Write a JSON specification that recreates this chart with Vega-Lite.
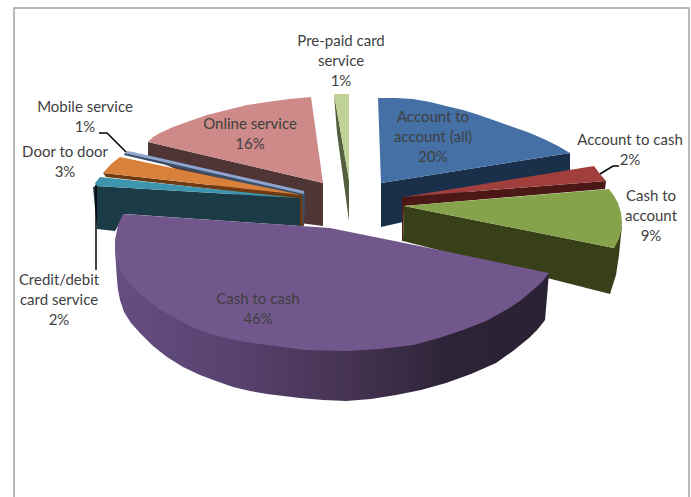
{
"$schema":"https://vega.github.io/schema/vega-lite/v6.json",
"width":691,"height":497,"padding":0,
"autosize":{"type":"fit","contains":"padding"},
"background":"white",
"view":{"stroke":null},
"datasets":{
"frame":[{"n":1,"x":14,"y":497},{"n":2,"x":14,"y":8},{"n":3,"x":689,"y":8},{"n":4,"x":689,"y":497}],
"faces":[
{"part":"prepaid side","n":1,"x":334,"y":94},{"part":"prepaid side","n":2,"x":349,"y":180},{"part":"prepaid side","n":3,"x":349,"y":221},{"part":"prepaid side","n":4,"x":337,"y":133},
{"part":"prepaid top","n":1,"x":334,"y":94},{"part":"prepaid top","n":2,"x":349,"y":94},{"part":"prepaid top","n":3,"x":349,"y":180},
{"part":"online side","n":1,"x":148,"y":142},{"part":"online side","n":2,"x":323,"y":183},{"part":"online side","n":3,"x":323,"y":226},{"part":"online side","n":4,"x":300,"y":223},{"part":"online side","n":5,"x":148,"y":157},
{"part":"online top","n":1,"x":311,"y":97},{"part":"online top","n":2,"x":289,"y":99},{"part":"online top","n":3,"x":267,"y":102},{"part":"online top","n":4,"x":247,"y":105},{"part":"online top","n":5,"x":227,"y":110},{"part":"online top","n":6,"x":207,"y":115},{"part":"online top","n":7,"x":187,"y":122},{"part":"online top","n":8,"x":173,"y":127},{"part":"online top","n":9,"x":160,"y":133},{"part":"online top","n":10,"x":153,"y":137},{"part":"online top","n":11,"x":148,"y":142},{"part":"online top","n":12,"x":323,"y":183},
{"part":"mobile side","n":1,"x":124,"y":155},{"part":"mobile side","n":2,"x":125,"y":153},{"part":"mobile side","n":3,"x":303,"y":192},{"part":"mobile side","n":4,"x":305,"y":195},{"part":"mobile side","n":5,"x":304,"y":226},{"part":"mobile side","n":6,"x":302,"y":226},{"part":"mobile side","n":7,"x":302,"y":197},
{"part":"mobile top","n":1,"x":125,"y":153},{"part":"mobile top","n":2,"x":127,"y":151},{"part":"mobile top","n":3,"x":133,"y":152},{"part":"mobile top","n":4,"x":304,"y":191},{"part":"mobile top","n":5,"x":304,"y":194},
{"part":"door side","n":1,"x":103,"y":173},{"part":"door side","n":2,"x":302,"y":195},{"part":"door side","n":3,"x":303,"y":226},{"part":"door side","n":4,"x":300,"y":226},{"part":"door side","n":5,"x":300,"y":199},{"part":"door side","n":6,"x":106,"y":177},
{"part":"door top","n":1,"x":103,"y":173},{"part":"door top","n":2,"x":111,"y":164},{"part":"door top","n":3,"x":120,"y":157},{"part":"door top","n":4,"x":302,"y":195},
{"part":"card side","n":1,"x":93,"y":187},{"part":"card side","n":2,"x":96,"y":186},{"part":"card side","n":3,"x":300,"y":198},{"part":"card side","n":4,"x":300,"y":226},{"part":"card side","n":5,"x":125,"y":214},{"part":"card side","n":6,"x":115,"y":231},{"part":"card side","n":7,"x":97,"y":229},
{"part":"card top","n":1,"x":95,"y":183},{"part":"card top","n":2,"x":100,"y":177},{"part":"card top","n":3,"x":298,"y":198},{"part":"card top","n":4,"x":96,"y":186},
{"part":"a2a side","n":1,"x":381,"y":183},{"part":"a2a side","n":2,"x":570,"y":153},{"part":"a2a side","n":3,"x":570,"y":171},{"part":"a2a side","n":4,"x":403,"y":205},{"part":"a2a side","n":5,"x":403,"y":222},{"part":"a2a side","n":6,"x":381,"y":227},
{"part":"a2a top","n":1,"x":378,"y":98},{"part":"a2a top","n":2,"x":396,"y":98},{"part":"a2a top","n":3,"x":413,"y":99},{"part":"a2a top","n":4,"x":430,"y":102},{"part":"a2a top","n":5,"x":446,"y":106},{"part":"a2a top","n":6,"x":463,"y":110},{"part":"a2a top","n":7,"x":479,"y":115},{"part":"a2a top","n":8,"x":496,"y":121},{"part":"a2a top","n":9,"x":513,"y":127},{"part":"a2a top","n":10,"x":530,"y":133},{"part":"a2a top","n":11,"x":546,"y":140},{"part":"a2a top","n":12,"x":558,"y":146},{"part":"a2a top","n":13,"x":570,"y":153},{"part":"a2a top","n":14,"x":381,"y":183},
{"part":"a2c side","n":1,"x":403,"y":197},{"part":"a2c side","n":2,"x":606,"y":181},{"part":"a2c side","n":3,"x":605,"y":189},{"part":"a2c side","n":4,"x":404,"y":206},{"part":"a2c side","n":5,"x":403,"y":241},{"part":"a2c side","n":6,"x":402,"y":241},{"part":"a2c side","n":7,"x":402,"y":197},
{"part":"a2c top","n":1,"x":403,"y":197},{"part":"a2c top","n":2,"x":594,"y":166},{"part":"a2c top","n":3,"x":600,"y":174},{"part":"a2c top","n":4,"x":606,"y":181},
{"part":"c2a side","n":1,"x":404,"y":206},{"part":"c2a side","n":2,"x":614,"y":248},{"part":"c2a side","n":3,"x":622,"y":225},{"part":"c2a side","n":4,"x":619,"y":255},{"part":"c2a side","n":5,"x":616,"y":275},{"part":"c2a side","n":6,"x":610,"y":294},{"part":"c2a side","n":7,"x":403,"y":241},
{"part":"c2a top","n":1,"x":404,"y":206},{"part":"c2a top","n":2,"x":609,"y":189},{"part":"c2a top","n":3,"x":614,"y":196},{"part":"c2a top","n":4,"x":618,"y":203},{"part":"c2a top","n":5,"x":621,"y":213},{"part":"c2a top","n":6,"x":622,"y":223},{"part":"c2a top","n":7,"x":621,"y":231},{"part":"c2a top","n":8,"x":619,"y":239},{"part":"c2a top","n":9,"x":614,"y":248}
],
"cash_side":[
{"n":1,"x":115,"y":250},{"n":2,"x":116,"y":265},{"n":3,"x":117,"y":280},{"n":4,"x":118,"y":290},{"n":5,"x":120,"y":300},{"n":6,"x":124,"y":312},{"n":7,"x":131,"y":323},{"n":8,"x":140,"y":333},{"n":9,"x":153,"y":346},{"n":10,"x":167,"y":357},{"n":11,"x":183,"y":367},{"n":12,"x":200,"y":375},{"n":13,"x":216,"y":381},{"n":14,"x":233,"y":387},{"n":15,"x":250,"y":391},{"n":16,"x":267,"y":394},{"n":17,"x":300,"y":398},{"n":18,"x":323,"y":400},{"n":19,"x":346,"y":401},{"n":20,"x":371,"y":399},{"n":21,"x":396,"y":395},{"n":22,"x":421,"y":390},{"n":23,"x":446,"y":383},{"n":24,"x":471,"y":374},{"n":25,"x":496,"y":363},{"n":26,"x":513,"y":351},{"n":27,"x":529,"y":338},{"n":28,"x":538,"y":329},{"n":29,"x":545,"y":320},{"n":30,"x":549,"y":273},{"n":31,"x":346,"y":340},{"n":32,"x":150,"y":290}
],
"cash_top":[
{"n":1,"x":330,"y":228},{"n":2,"x":123,"y":214},{"n":3,"x":118,"y":225},{"n":4,"x":115,"y":240},{"n":5,"x":115,"y":250},{"n":6,"x":116,"y":257},{"n":7,"x":117,"y":263},{"n":8,"x":121,"y":272},{"n":9,"x":127,"y":280},{"n":10,"x":136,"y":290},{"n":11,"x":147,"y":300},{"n":12,"x":159,"y":309},{"n":13,"x":173,"y":317},{"n":14,"x":192,"y":327},{"n":15,"x":213,"y":335},{"n":16,"x":239,"y":341},{"n":17,"x":267,"y":345},{"n":18,"x":305,"y":350},{"n":19,"x":346,"y":351},{"n":20,"x":380,"y":349},{"n":21,"x":413,"y":345},{"n":22,"x":439,"y":338},{"n":23,"x":463,"y":330},{"n":24,"x":486,"y":321},{"n":25,"x":506,"y":310},{"n":26,"x":520,"y":301},{"n":27,"x":533,"y":290},{"n":28,"x":542,"y":282},{"n":29,"x":549,"y":273},{"n":30,"x":439,"y":250}
],
"leaders":[
{"label":"Mobile service","n":1,"x":99,"y":133},{"label":"Mobile service","n":2,"x":107,"y":133},{"label":"Mobile service","n":3,"x":126,"y":152},
{"label":"Account to cash","n":1,"x":619,"y":166},{"label":"Account to cash","n":2,"x":613,"y":166},{"label":"Account to cash","n":3,"x":600,"y":174},
{"label":"Credit/debit card service","n":1,"x":96,"y":185},{"label":"Credit/debit card service","n":2,"x":96,"y":270}
],
"labels":[
{"label":"Pre-paid card\nservice\n1%","x":341,"y":41},
{"label":"Mobile service\n1%","x":85,"y":107},
{"label":"Door to door\n3%","x":65,"y":152},
{"label":"Online service\n16%","x":250,"y":124},
{"label":"Account to\naccount (all)\n20%","x":433,"y":117},
{"label":"Account to cash\n2%","x":630,"y":140},
{"label":"Cash to\naccount\n9%","x":651,"y":196},
{"label":"Cash to cash\n46%","x":258,"y":299},
{"label":"Credit/debit\ncard service\n2%","x":59,"y":280}
]
},
"encoding":{
"x":{"field":"x","type":"quantitative","axis":null,"scale":{"domain":[0,691],"nice":false,"zero":false}},
"y":{"field":"y","type":"quantitative","axis":null,"scale":{"domain":[497,0],"nice":false,"zero":false}}
},
"layer":[
{"data":{"name":"frame"},"mark":{"type":"line","color":"#a3a3a3","strokeWidth":1.5,"clip":true},"encoding":{"order":{"field":"n"}}},
{"data":{"name":"faces"},"mark":{"type":"line","strokeWidth":0},
"encoding":{"order":{"field":"n"},
"fill":{"field":"part","type":"nominal","legend":null,"sort":null,"scale":{
"domain":["prepaid side","prepaid top","online side","online top","mobile side","mobile top","door side","door top","card side","card top","a2a side","a2a top","a2c side","a2c top","c2a side","c2a top"],
"range":["#545f3e","#c0d296","#503536","#cd8a88","#3d5068","#8ea5d0","#6e3a12","#d9813a","#1b3b47","#3d96ae","#1a2f4a","#4470a6","#4b1816","#a13f3d","#384019","#86a34b"]}}}},
{"data":{"name":"cash_side"},"mark":{"type":"line","strokeWidth":0,"fill":{"gradient":"linear","x1":0,"y1":0,"x2":1,"y2":0,"stops":[{"offset":0,"color":"#654f82"},{"offset":0.3,"color":"#56406c"},{"offset":0.55,"color":"#443250"},{"offset":0.78,"color":"#2c2337"},{"offset":1,"color":"#2a2135"}]}},"encoding":{"order":{"field":"n"}}},
{"data":{"name":"cash_top"},"mark":{"type":"line","strokeWidth":0,"fill":"#71578b"},"encoding":{"order":{"field":"n"}}},
{"data":{"name":"leaders"},"mark":{"type":"line","color":"black","strokeWidth":1.5},"encoding":{"order":{"field":"n"},"detail":{"field":"label"}}},
{"data":{"name":"labels"},"mark":{"type":"text","font":"Lato","fontSize":15,"lineHeight":20,"lineBreak":"\n","align":"center","baseline":"middle","color":"#3f3f3f"},"encoding":{"text":{"field":"label"}}}
]
}
